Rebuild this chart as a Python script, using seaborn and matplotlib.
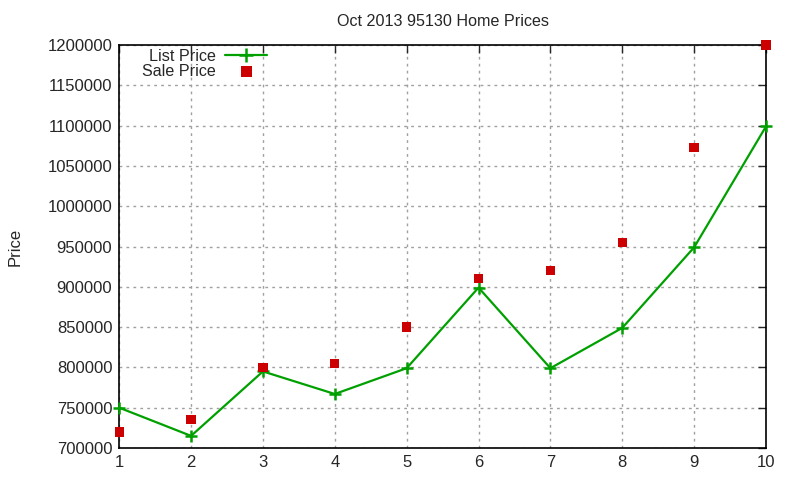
import numpy as np
import pandas as pd
import matplotlib
matplotlib.use("Agg")
import matplotlib.pyplot as plt
import seaborn as sns

# values
homes = [1, 2, 3, 4, 5, 6, 7, 8, 9, 10]
list_price = [750000, 715000, 795000, 767000, 799000, 899000, 799000, 849000, 949000, 1099000]
sale_price = [720000, 735000, 800000, 805000, 850000, 910000, 920000, 955000, 1073000, 1200000]

df = pd.DataFrame({"home": homes, "list": list_price, "sale": sale_price})

sns.set_style("white")
plt.rcParams["font.family"] = ["Liberation Sans", "DejaVu Sans"]
plt.rcParams["font.size"] = 12

green = "#00a000"
red = "#cc0000"

fig = plt.figure(figsize=(8, 4.8), dpi=100)
ax = fig.add_axes([0.149, 0.0667, 0.8085, 0.8395])

sns.lineplot(data=df, x="home", y="list", ax=ax, color=green, linewidth=1.6,
             marker="+", markersize=8, markeredgewidth=1.8, markeredgecolor=green,
             label="List Price", clip_on=False, zorder=3)
sns.scatterplot(data=df, x="home", y="sale", ax=ax, color=red, marker="s",
                s=45, edgecolor="none", label="Sale Price", zorder=4, clip_on=False)

ax.set_xlim(1, 10)
ax.set_ylim(700000, 1200000)
ax.set_xticks(homes)
ax.set_yticks(np.arange(700000, 1200001, 50000))
ax.ticklabel_format(axis="y", style="plain", useOffset=False)
ax.grid(True, color="#a0a0a0", linestyle=(0, (2, 3)), linewidth=1)
ax.tick_params(direction="in", length=6, width=1, top=True, right=True,
               labelsize=12, pad=5)
for sp in ax.spines.values():
    sp.set_visible(True)
    sp.set_color("black")
    sp.set_linewidth(1.2)

ax.set_title("Oct 2013 95130 Home Prices", fontsize=11.6, pad=14)
ax.set_xlabel("")
ax.set_ylabel("Price", fontsize=12, labelpad=18)

leg = ax.legend(loc="upper left", bbox_to_anchor=(0.02, 1.015), frameon=False,
                markerfirst=False, handlelength=2.6, handletextpad=0.6,
                labelspacing=0.0, borderaxespad=0.2, fontsize=11.6,
                markerscale=1.2)

fig.savefig("out.png", dpi=100)
